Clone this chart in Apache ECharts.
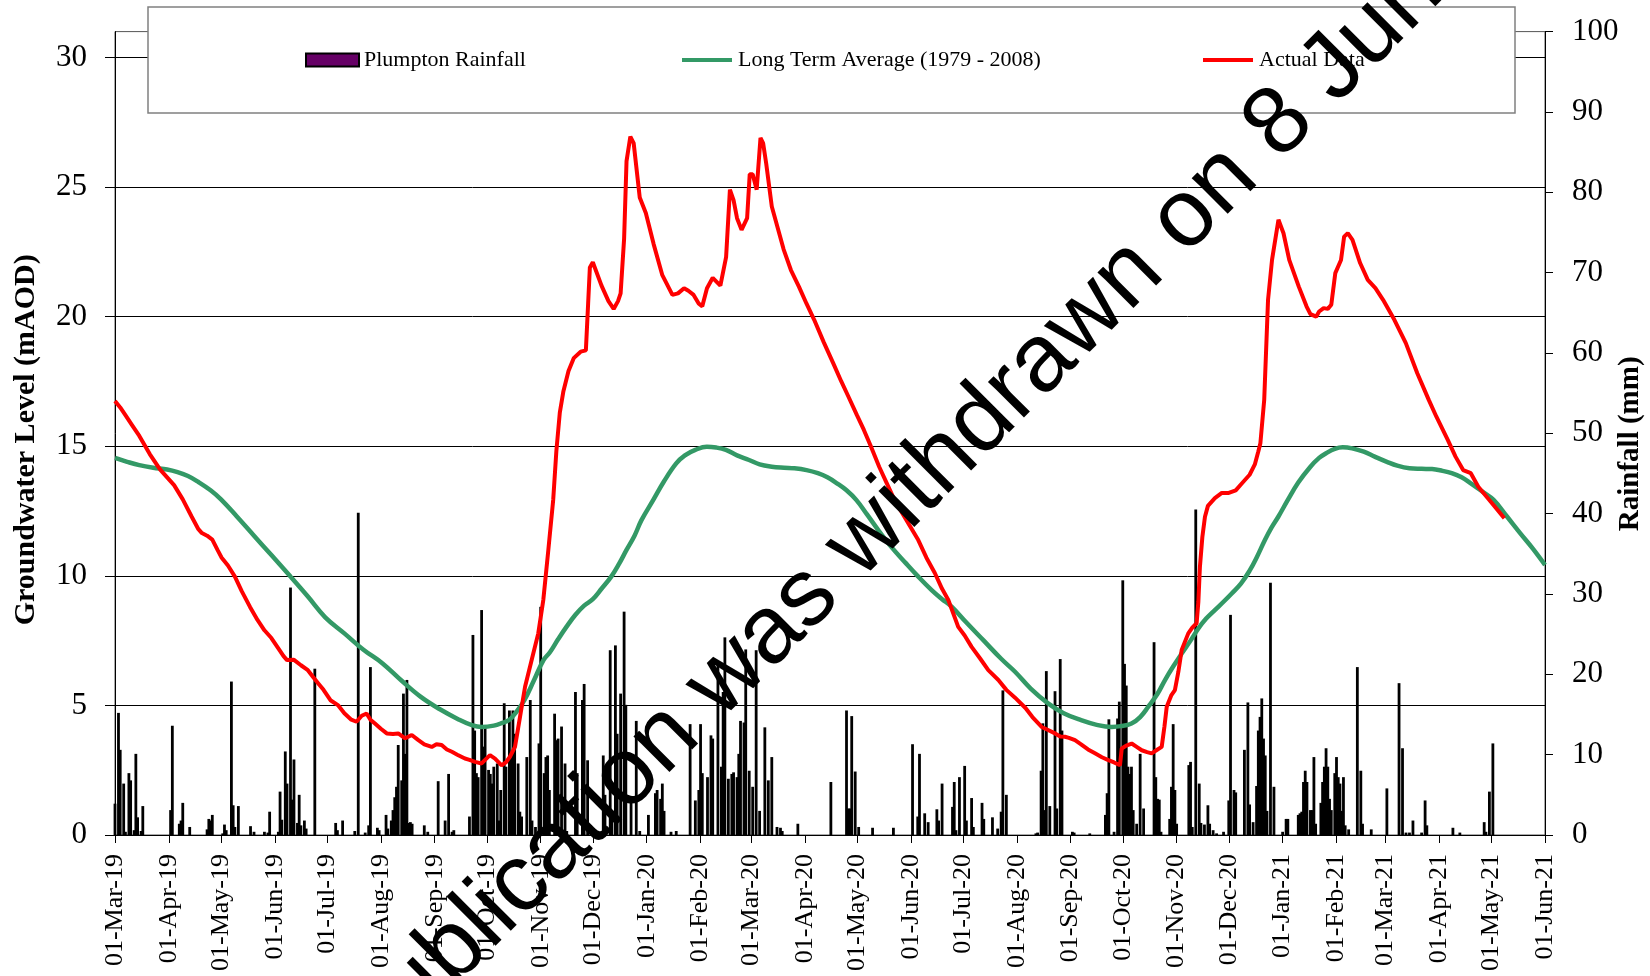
<!DOCTYPE html>
<html><head><meta charset="utf-8">
<script src="https://cdn.jsdelivr.net/npm/echarts@6/dist/echarts.min.js"></script>
<style>html,body{margin:0;padding:0;background:#fff}#c{width:1650px;height:976px}</style>
</head><body><div id="c"></div>
<script>
// All day values are days since 01-Mar-2019
const startDate = '2019-03-01';
const tickDates = ['2019-03-01','2019-04-01','2019-05-01','2019-06-01','2019-07-01','2019-08-01','2019-09-01','2019-10-01','2019-11-01','2019-12-01','2020-01-01','2020-02-01','2020-03-01','2020-04-01','2020-05-01','2020-06-01','2020-07-01','2020-08-01','2020-09-01','2020-10-01','2020-11-01','2020-12-01','2021-01-01','2021-02-01','2021-03-01','2021-04-01','2021-05-01','2021-06-01'];
const tickLabels = ['01-Mar-19','01-Apr-19','01-May-19','01-Jun-19','01-Jul-19','01-Aug-19','01-Sep-19','01-Oct-19','01-Nov-19','01-Dec-19','01-Jan-20','01-Feb-20','01-Mar-20','01-Apr-20','01-May-20','01-Jun-20','01-Jul-20','01-Aug-20','01-Sep-20','01-Oct-20','01-Nov-20','01-Dec-20','01-Jan-21','01-Feb-21','01-Mar-21','01-Apr-21','01-May-21','01-Jun-21'];
const levelTicks = [0,5,10,15,20,25,30];

// Plumpton daily rainfall (mm)
const rainDay = [0,2,3,5,6,8,9,11,12,13,15,16,32,33,37,38,39,43,53,54,55,56,62,63,64,67,68,69,71,78,80,86,88,89,94,95,96,98,99,101,102,103,105,106,107,109,110,115,127,128,131,138,140,144,146,147,151,152,156,157,159,160,161,162,163,165,166,167,168,169,170,171,178,180,186,190,192,194,195,204,206,207,208,209,211,212,213,215,216,217,218,220,221,222,224,225,227,228,229,230,232,233,234,237,239,240,242,244,245,247,248,249,250,253,254,255,257,259,260,265,266,269,270,272,275,281,282,285,286,288,289,291,293,294,297,300,302,307,311,312,314,315,316,320,323,331,334,336,337,338,341,343,344,347,349,350,351,353,355,356,358,359,360,362,363,365,367,369,371,374,376,378,381,383,384,393,412,421,422,423,424,426,428,436,448,459,462,463,466,468,473,474,476,482,483,484,486,489,490,493,494,499,500,505,508,510,511,513,530,531,533,534,535,536,538,541,542,544,545,551,552,561,570,571,572,575,577,578,580,581,582,583,584,585,586,588,590,592,598,599,600,601,602,607,608,609,610,611,618,619,620,622,624,625,627,629,630,632,634,638,641,642,644,645,650,652,653,655,657,658,659,660,661,662,663,665,667,672,674,675,681,682,683,684,685,686,688,689,690,691,694,695,696,697,698,699,700,702,703,704,705,706,707,708,710,715,717,718,723,732,739,741,743,745,747,752,754,755,770,774,788,789,791,793];
const rainMm = [3.9,15.2,10.6,6.4,0.4,7.7,6.8,0.6,10.1,2.2,0.5,3.6,3.1,13.6,1.4,1.8,4.0,1.0,0.7,2.0,1.8,2.5,0.2,1.3,0.6,19.1,3.7,1.0,3.6,1.1,0.4,0.4,0.3,2.9,0.4,5.4,1.9,10.4,6.4,30.8,4.4,9.4,1.5,5.0,1.2,1.8,0.8,20.7,1.5,0.6,1.8,0.5,40.1,0.3,1.2,20.9,0.9,0.6,2.5,0.8,1.8,3.1,4.7,6.0,11.2,6.8,17.6,10.1,19.3,1.5,1.6,1.4,1.2,0.4,6.7,1.8,7.6,0.4,0.6,2.3,24.9,13.0,7.7,7.2,28.0,11.0,13.5,8.1,7.6,6.4,8.5,8.9,1.8,5.6,16.4,8.5,15.5,9.7,15.5,12.6,8.9,2.9,2.3,9.7,16.8,1.8,1.0,11.4,28.4,7.7,9.7,9.9,5.6,15.1,11.8,12.0,13.5,8.9,0.5,17.8,7.7,16.8,18.8,9.3,0.6,9.9,5.0,23.0,3.0,23.6,12.6,17.6,27.8,16.2,4.5,14.2,0.5,2.5,5.2,5.6,4.5,6.4,3.0,0.4,0.5,13.8,4.3,5.6,13.8,7.7,7.2,12.4,12.0,21.5,8.5,17.8,24.6,7.0,7.6,7.8,7.2,10.1,14.2,14.0,23.1,8.0,6.0,23.0,3.0,13.4,6.8,9.7,1.0,0.9,0.5,1.4,6.6,15.5,3.3,3.3,14.8,7.9,1.0,0.9,0.9,11.3,2.3,10.1,2.7,1.6,3.2,1.8,6.4,3.5,6.6,0.6,7.2,8.6,1.8,4.6,1.0,4.0,2.0,2.2,0.8,2.9,18.0,5.0,0.2,0.3,8.0,13.9,3.1,20.4,3.6,17.9,3.3,21.9,13.0,0.4,0.3,0.2,2.5,5.2,14.4,0.4,14.5,16.6,31.7,21.3,18.6,8.5,7.6,8.5,3.1,1.4,10.1,3.3,24.0,7.2,4.5,4.4,0.4,2.0,6.0,13.8,5.6,1.4,8.7,9.1,1.0,40.5,6.4,1.5,1.3,3.7,1.4,0.6,0.2,0.4,4.3,27.4,5.6,5.3,10.6,16.5,3.8,1.6,6.1,13.0,14.7,17.0,12.0,9.9,3.0,31.4,6.0,0.4,2.0,2.0,2.5,2.7,2.9,6.6,8.0,6.6,3.1,3.1,9.7,1.4,4.0,6.6,8.5,10.8,8.5,4.5,3.1,7.7,9.7,7.2,6.4,3.0,7.2,1.2,0.7,20.9,8.0,1.4,0.7,5.8,18.9,10.8,0.3,0.3,1.8,0.3,4.3,1.2,0.9,0.3,1.6,0.4,5.4,11.4];

// Long Term Average (1979 - 2008), mAOD: [day, level]
const ltaLevel = [[0,14.55],[7,14.4],[14,14.27],[22,14.17],[30,14.1],[36,14.0],[42,13.85],[48,13.62],[55,13.3],[61,12.95],[70,12.3],[80,11.55],[90,10.8],[101,9.97],[111,9.2],[121,8.4],[132,7.78],[143,7.15],[154,6.62],[165,5.95],[176,5.33],[187,4.85],[198,4.45],[205,4.25],[211,4.17],[218,4.22],[223,4.33],[227,4.45],[231,4.75],[235.6,5.2],[241,5.95],[246.6,6.75],[250.3,7.05],[255,7.55],[259.8,8.03],[265,8.5],[270,8.85],[275,9.1],[280,9.5],[285.6,9.97],[290,10.45],[294.4,11.0],[299,11.55],[303,12.15],[309.8,12.93],[316,13.65],[323,14.34],[328,14.65],[334,14.86],[340.6,14.98],[346,14.95],[351.6,14.86],[358,14.65],[364.9,14.47],[371,14.3],[378,14.21],[385,14.17],[391,14.15],[398,14.08],[404.5,13.96],[410,13.8],[415.5,13.57],[421,13.3],[426.6,12.93],[433,12.35],[440,11.7],[447,11.1],[455,10.5],[462.3,9.97],[470,9.45],[476,9.1],[481.5,8.81],[490,8.2],[500,7.5],[510,6.8],[518,6.3],[527,5.65],[537,5.08],[546,4.7],[556,4.43],[565,4.25],[573.6,4.17],[579,4.2],[585,4.3],[590,4.55],[594.7,4.95],[600,5.45],[604.3,5.98],[609,6.5],[613.9,7.0],[619,7.5],[623.5,7.97],[628,8.35],[633,8.68],[638,9.0],[642.7,9.32],[648,9.7],[653,10.2],[657,10.7],[661.8,11.38],[665.5,11.85],[669.5,12.28],[675,12.93],[681,13.6],[688,14.21],[693,14.55],[697,14.73],[702,14.9],[706.6,14.96],[712,14.92],[718.7,14.79],[725,14.6],[732,14.4],[738,14.25],[745,14.15],[752,14.13],[758,14.12],[764,14.05],[769.3,13.96],[775,13.8],[780.3,13.57],[787,13.25],[793.4,12.93],[801,12.3],[808.8,11.64],[816,11.05],[823,10.42]];

// Actual Data, mAOD: [day, level]
const actualLevel = [[0,16.75],[3,16.5],[6,16.2],[10,15.8],[14,15.4],[20,14.7],[26,14.1],[30,13.8],[34,13.5],[39,12.95],[44,12.3],[48,11.8],[50,11.65],[53,11.55],[56,11.4],[59,11.0],[61.4,10.7],[65,10.4],[69,9.97],[73,9.4],[77.7,8.8],[82,8.3],[86,7.9],[90,7.6],[94,7.2],[97,6.9],[99,6.75],[103,6.76],[107,6.55],[111,6.36],[114,6.1],[117,5.85],[120,5.6],[124,5.2],[128.5,5.0],[132,4.7],[136,4.45],[139,4.37],[142,4.6],[144.8,4.69],[147,4.45],[149.6,4.3],[153,4.1],[156.4,3.92],[160,3.9],[163,3.92],[167,3.73],[170.8,3.86],[174.6,3.66],[178,3.5],[182.3,3.4],[185,3.5],[188,3.47],[191,3.3],[193.9,3.21],[197,3.1],[201.4,2.95],[204,2.9],[207.2,2.82],[211,2.76],[213,2.9],[215.8,3.08],[218.7,2.95],[222.5,2.69],[225,2.8],[227.3,3.02],[230.2,3.4],[233.1,4.56],[236,5.72],[239.8,6.75],[243.6,7.78],[246.5,9.07],[249.4,11.0],[252.2,12.93],[254,14.8],[256,16.3],[258,17.1],[261,17.9],[264,18.4],[268,18.65],[271,18.7],[272.3,20.5],[273.3,21.9],[275,22.1],[280,21.2],[284,20.6],[287,20.3],[289.5,20.6],[291,20.9],[293,23.0],[294.4,26.0],[296.6,26.95],[298.5,26.7],[302,24.6],[305.5,24.0],[310,22.8],[315,21.6],[320.8,20.84],[324,20.9],[327.5,21.1],[330,21.0],[333,20.84],[336,20.5],[338,20.4],[340.7,21.1],[344,21.5],[348.4,21.2],[351.7,22.3],[353.9,24.9],[356,24.5],[358,23.8],[360.6,23.35],[363.8,23.8],[365.3,25.5],[367,25.5],[369.3,24.9],[371.5,26.9],[373,26.7],[374.8,25.9],[378,24.25],[384.8,22.6],[389,21.8],[393.6,21.16],[398,20.5],[402.4,19.88],[408,19.0],[413.4,18.2],[418,17.5],[422.2,16.9],[427,16.2],[431,15.63],[435,15.0],[439.8,14.21],[444,13.6],[448.6,12.93],[455,12.2],[462.3,11.38],[467,10.7],[471.9,10.1],[476,9.5],[479.6,9.07],[485.3,8.03],[489,7.7],[493,7.26],[498,6.8],[502.6,6.36],[508.4,5.98],[513,5.6],[518,5.3],[524,4.9],[528,4.55],[533.3,4.17],[537,4.05],[541,3.92],[544,3.8],[546.7,3.79],[549,3.75],[552.5,3.66],[556,3.5],[560,3.3],[564,3.15],[568,3.0],[571.7,2.89],[575,2.8],[578.4,2.69],[579.4,3.34],[582,3.45],[585.1,3.53],[588,3.4],[590.9,3.27],[594,3.2],[596.6,3.15],[600,3.3],[602.4,3.4],[604,4.2],[605.3,4.95],[608,5.4],[610,5.59],[612,6.3],[613.9,7.14],[617.7,7.78],[620,8.0],[622.5,8.17],[623.5,9.0],[624.4,10.35],[625.8,11.5],[627.3,12.28],[629,12.7],[633,13.0],[637,13.2],[641,13.2],[645,13.3],[649,13.6],[653,13.9],[656,14.3],[658,14.8],[659.2,15.12],[661.4,16.79],[663.6,20.65],[665.9,22.19],[669.6,23.74],[672.5,23.22],[675.8,22.19],[681.3,21.16],[685.8,20.39],[688,20.1],[691.3,20.0],[693,20.2],[695.6,20.33],[698,20.3],[700,20.46],[702.3,21.68],[705.6,22.19],[707.4,23.09],[709.5,23.22],[712.2,22.96],[716.6,22.07],[721,21.42],[725.4,21.1],[729.8,20.65],[736.3,19.88],[742.9,18.98],[749.5,17.82],[756.1,16.79],[760.5,16.14],[767.1,15.24],[771.5,14.6],[775.9,14.08],[780.3,13.96],[784.6,13.44],[790,13.0],[795,12.6],[799.6,12.22]];

const dayOf = d => Math.round((Date.parse(d + 'T00:00:00Z') - Date.parse(startDate + 'T00:00:00Z')) / 86400000);
const tickDays = tickDates.map(dayOf);
const serif = '"Liberation Serif","Times New Roman",serif';

const chart = echarts.init(document.getElementById('c'), null, {renderer: 'canvas'});
chart.setOption({
  animation: false,
  backgroundColor: '#fff',
  grid: {left: 115, right: 105, top: 31.6, bottom: 141, containLabel: false, outerBoundsMode: 'none',
         show: true, borderColor: '#555', borderWidth: 1, backgroundColor: 'transparent'},
  xAxis: {
    type: 'value', min: 0, max: tickDays[tickDays.length - 1],
    axisLine: {show: true, lineStyle: {color: '#000', width: 1}},
    axisTick: {show: true, customValues: tickDays, length: 8, lineStyle: {color: '#000'}},
    axisLabel: {customValues: tickDays, rotate: 90, margin: 19, fontFamily: serif, fontSize: 26, color: '#000', hideOverlap: false,
      formatter: v => tickLabels[tickDays.indexOf(Math.round(v))] || ''},
    splitLine: {show: false}
  },
  yAxis: [
    {type: 'value', min: 0, max: 31, interval: 5, position: 'left',
     name: 'Groundwater Level (mAOD)', nameLocation: 'middle', nameGap: 74, nameRotate: 90, nameMoveOverlap: false,
     nameTextStyle: {fontFamily: serif, fontWeight: 'bold', fontSize: 30, color: '#000', padding: [0, 13, 0, 0]},
     axisLine: {show: true, lineStyle: {color: '#000'}},
     axisTick: {show: true, customValues: levelTicks, length: 10, lineStyle: {color: '#000'}},
     axisLabel: {customValues: levelTicks, margin: 28, fontFamily: serif, fontSize: 31, color: '#000'},
     splitLine: {show: true, lineStyle: {color: '#000', width: 1}}},
    {type: 'value', min: 0, max: 100, interval: 10, position: 'right',
     name: 'Rainfall (mm)', nameLocation: 'middle', nameGap: 71, nameRotate: 90, nameMoveOverlap: false,
     nameTextStyle: {fontFamily: serif, fontWeight: 'bold', fontSize: 29, color: '#000', padding: [0, 21, 0, 0]},
     axisLine: {show: true, lineStyle: {color: '#000'}},
     axisTick: {show: true, length: 8, lineStyle: {color: '#000'}},
     axisLabel: {margin: 27, fontFamily: serif, fontSize: 31, color: '#000'},
     splitLine: {show: false}}
  ],
  legend: [
    {data: ['Plumpton Rainfall'], left: 305, top: 49, padding: 0, z: 6, icon: 'rect', itemWidth: 53, itemHeight: 13,
     itemStyle: {color: '#660066', borderColor: '#000', borderWidth: 2},
     textStyle: {fontFamily: serif, fontSize: 22, color: '#000'}},
    {data: ['Long Term Average (1979 - 2008)'], left: 682, top: 49, padding: 0, z: 6, icon: 'path://M0,0L50,0L50,4L0,4Z', itemWidth: 52, itemHeight: 4,
     textStyle: {fontFamily: serif, fontSize: 22, color: '#000'}},
    {data: ['Actual Data'], left: 1203, top: 49, padding: 0, z: 6, icon: 'path://M0,0L50,0L50,4L0,4Z', itemWidth: 52, itemHeight: 4,
     textStyle: {fontFamily: serif, fontSize: 22, color: '#000'}}
  ],
  graphic: [
    {type: 'rect', z: 3, shape: {x: 148, y: 7, width: 1367, height: 106}, style: {fill: '#fff', stroke: '#808080', lineWidth: 1.5}},
    {type: 'text', z: 100, x: 212, y: 1192, rotation: Math.PI / 4,
     style: {text: 'This publication was withdrawn on 8 June 2021', fontSize: 96, fontFamily: '"Liberation Sans", Arial, sans-serif', fill: '#000', align: 'left', verticalAlign: 'middle'}}
  ],
  series: [
    {name: 'Plumpton Rainfall', type: 'bar', yAxisIndex: 1, barWidth: 2.8,
     itemStyle: {color: '#000'}, data: rainDay.map((d, i) => [d, rainMm[i]])},
    {name: 'Long Term Average (1979 - 2008)', type: 'line', yAxisIndex: 0, smooth: 0.4, symbol: 'none', showSymbol: false,
     itemStyle: {color: '#339966'}, lineStyle: {color: '#339966', width: 4.5}, data: ltaLevel, z: 3},
    {name: 'Actual Data', type: 'line', yAxisIndex: 0, smooth: false, symbol: 'none', showSymbol: false,
     itemStyle: {color: '#ff0000'}, lineStyle: {color: '#ff0000', width: 4}, data: actualLevel, z: 4}
  ]
});
</script></body></html>
